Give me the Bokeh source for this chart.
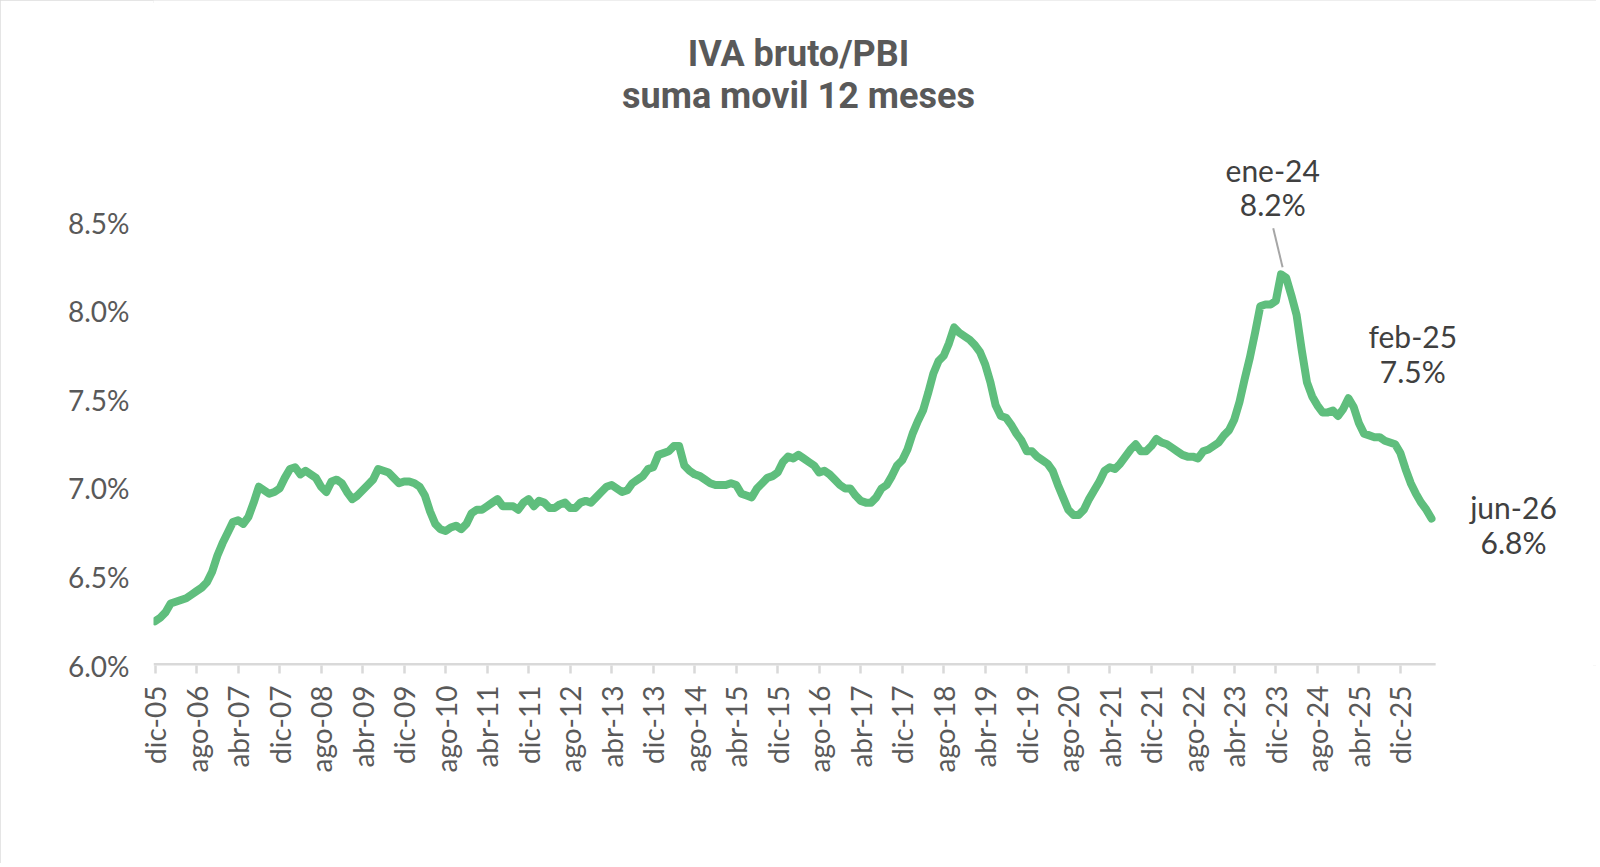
from bokeh.plotting import figure
from bokeh.models import Range1d, FixedTicker, PrintfTickFormatter, Label
from bokeh.embed import file_html
from bokeh.resources import INLINE
from math import pi

# IVA bruto / PBI, suma movil 12 meses, monthly from dic-05 to jun-26 (%)
iva_pbi = [
    6.25,                                                                    # dic-05
    6.27, 6.30, 6.35, 6.36, 6.37, 6.38, 6.40, 6.42, 6.44, 6.47, 6.53, 6.62,  # 2006
    6.69, 6.75, 6.81, 6.82, 6.80, 6.84, 6.92, 7.01, 6.99, 6.97, 6.98, 7.00,  # 2007
    7.06, 7.11, 7.12, 7.08, 7.10, 7.08, 7.06, 7.01, 6.98, 7.04, 7.05, 7.03,  # 2008
    6.98, 6.94, 6.96, 6.99, 7.02, 7.05, 7.11, 7.10, 7.09, 7.06, 7.03, 7.04,  # 2009
    7.04, 7.03, 7.01, 6.96, 6.87, 6.80, 6.77, 6.76, 6.78, 6.79, 6.77, 6.80,  # 2010
    6.86, 6.88, 6.88, 6.90, 6.92, 6.94, 6.90, 6.90, 6.90, 6.88, 6.92, 6.94,  # 2011
    6.90, 6.93, 6.92, 6.89, 6.89, 6.91, 6.92, 6.89, 6.89, 6.92, 6.93, 6.92,  # 2012
    6.95, 6.98, 7.01, 7.02, 7.00, 6.98, 6.99, 7.03, 7.05, 7.07, 7.11, 7.12,  # 2013
    7.19, 7.20, 7.21, 7.24, 7.24, 7.13, 7.10, 7.08, 7.07, 7.05, 7.03, 7.02,  # 2014
    7.02, 7.02, 7.03, 7.02, 6.97, 6.96, 6.95, 7.00, 7.03, 7.06, 7.07, 7.09,  # 2015
    7.15, 7.18, 7.17, 7.19, 7.17, 7.15, 7.13, 7.09, 7.10, 7.08, 7.05, 7.02,  # 2016
    7.00, 7.00, 6.96, 6.93, 6.92, 6.92, 6.95, 7.00, 7.02, 7.07, 7.13, 7.16,  # 2017
    7.22, 7.31, 7.38, 7.44, 7.54, 7.65, 7.72, 7.75, 7.82, 7.91, 7.88, 7.86,  # 2018
    7.84, 7.81, 7.77, 7.70, 7.60, 7.47, 7.41, 7.40, 7.36, 7.31, 7.27, 7.21,  # 2019
    7.21, 7.18, 7.16, 7.14, 7.10, 7.02, 6.95, 6.88, 6.85, 6.85, 6.88, 6.94,  # 2020
    6.99, 7.04, 7.10, 7.12, 7.11, 7.14, 7.18, 7.22, 7.25, 7.21, 7.21, 7.24,  # 2021
    7.28, 7.26, 7.25, 7.23, 7.21, 7.19, 7.18, 7.18, 7.17, 7.21, 7.22, 7.24,  # 2022
    7.26, 7.30, 7.33, 7.39, 7.49, 7.62, 7.74, 7.88, 8.03, 8.04, 8.04, 8.06,  # 2023
    8.21, 8.19, 8.09, 7.98, 7.78, 7.60, 7.52, 7.47, 7.43, 7.43, 7.44, 7.41,  # 2024
    7.45, 7.51, 7.46, 7.37, 7.31, 7.30, 7.29, 7.29, 7.27, 7.26, 7.25, 7.20,  # 2025
    7.11, 7.03, 6.97, 6.92, 6.88, 6.83,                                      # 2026
]
months = list(range(len(iva_pbi)))

tick_labels = [
    "dic-05", "ago-06", "abr-07", "dic-07", "ago-08", "abr-09", "dic-09",
    "ago-10", "abr-11", "dic-11", "ago-12", "abr-13", "dic-13", "ago-14",
    "abr-15", "dic-15", "ago-16", "abr-17", "dic-17", "ago-18", "abr-19",
    "dic-19", "ago-20", "abr-21", "dic-21", "ago-22", "abr-23", "dic-23",
    "ago-24", "abr-25", "dic-25",
]
y_ticks = [6.0, 6.5, 7.0, 7.5, 8.0, 8.5]

# highlighted points
ann_idx = [217, 230, 246]
ann_dates = ["ene-24", "feb-25", "jun-26"]
ann_texts = ["8.2%", "7.5%", "6.8%"]
# label offsets from the point (months, percentage points)
ann_dx = [-1.6, 12.4, 15.8]
ann_dy = [0.59, 0.35, 0.065]

GREEN = "#5fbe7d"
GREY_TXT = "#595959"
DARK_TXT = "#404040"
AXIS = "#d9d9d9"

X0, X1 = -0.3, 246.8   # extent of the category axis

# the frame reaches the top and right edges so the labels there are not clipped
p = figure(width=1596, height=863, output_backend="svg", toolbar_location=None,
           x_range=Range1d(X0, 277.8), y_range=Range1d(6.0, 9.757),
           min_border_left=153, min_border_right=0,
           min_border_top=0, min_border_bottom=198)
p.background_fill_color = "white"
p.border_fill_color = "white"
p.outline_line_color = None
p.grid.visible = False
p.styles = {"outline": "3px solid #dcdcdc", "outline-offset": "-3px"}

# category axis line, only as long as the data
p.segment(x0=[X0], y0=[6.0], x1=[X1], y1=[6.0], line_color=AXIS, line_width=5)

p.line(months, iva_pbi, line_color=GREEN, line_width=8, line_join="round", line_cap="round")

# leader line for the peak
pk = ann_idx[0]
p.segment(x0=[pk - 1.5], y0=[iva_pbi[pk] + 0.26], x1=[pk + 0.3], y1=[iva_pbi[pk] + 0.04],
          line_color="#a6a6a6", line_width=2)

for i, d, t, dx, dy in zip(ann_idx, ann_dates, ann_texts, ann_dx, ann_dy):
    for txt, off in ((d, 0.0), (t, -0.195)):
        p.add_layout(Label(x=i + dx, y=iva_pbi[i] + dy + off, text=txt,
                           text_align="center", text_baseline="middle",
                           text_font="Lato", text_font_size="30px",
                           text_color=DARK_TXT))

# title
for txt, yy in (("IVA bruto/PBI", 9.455), ("suma movil 12 meses", 9.215)):
    p.add_layout(Label(x=124.0, y=yy, text=txt, text_align="center",
                       text_baseline="middle", text_font="Roboto",
                       text_font_style="bold", text_font_size="36px",
                       text_color=GREY_TXT))

xa = p.xaxis[0]
xa.ticker = FixedTicker(ticks=months[::8])
xa.major_label_overrides = {m: lab for m, lab in zip(months[::8], tick_labels)}
xa.major_label_orientation = pi / 2
xa.major_label_text_font = "Lato"
xa.major_label_text_font_size = "28px"
xa.major_label_text_color = GREY_TXT
xa.major_label_standoff = 12
xa.axis_line_color = None
xa.major_tick_line_color = AXIS
xa.major_tick_line_width = 2.5
xa.major_tick_in = 0
xa.major_tick_out = 8
xa.minor_tick_line_color = None

ya = p.yaxis[0]
ya.ticker = FixedTicker(ticks=y_ticks)
ya.formatter = PrintfTickFormatter(format="%.1f%%")
ya.major_label_text_font = "Lato"
ya.major_label_text_font_size = "28px"
ya.major_label_text_color = GREY_TXT
ya.major_label_standoff = 18
ya.axis_line_color = None
ya.major_tick_line_color = None
ya.minor_tick_line_color = None

open("out.html", "w").write(file_html(p, INLINE))
